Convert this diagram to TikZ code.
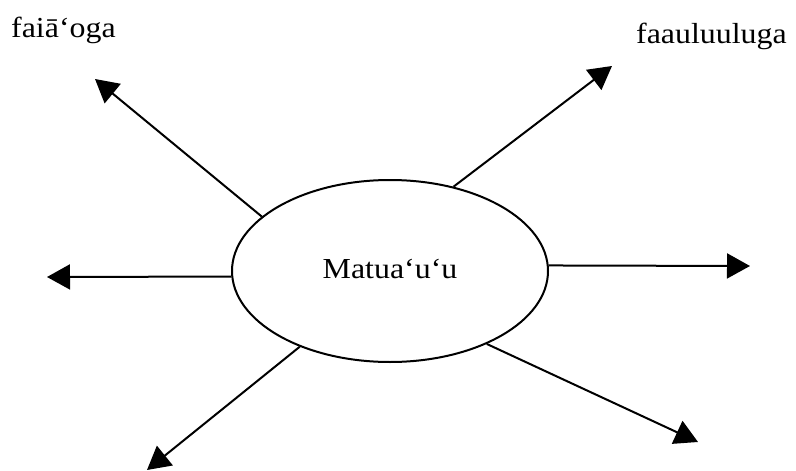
\documentclass[tikz,border=0pt]{standalone}
\usepackage{fontspec}
\setmainfont{Liberation Serif}[FakeStretch=1.1]
\usetikzlibrary{arrows.meta,shapes.geometric}
\begin{document}
\begin{tikzpicture}[x=1pt,y=-1pt,
  lbl/.style={font=\fontsize{29}{31}\selectfont, inner sep=0pt, anchor=base west},
  arr/.style={line width=2pt, -{Triangle[length=23pt,width=25pt]}}]
\useasboundingbox (0,0) rectangle (796,471);
\node[draw, ellipse, line width=2pt, minimum width=316pt, minimum height=182pt, inner sep=0pt] (m) at (390,271) {};
\node[lbl, anchor=base] (mt) at (390,278) {Matua‘u‘u};
\node[lbl] (t1) at (11,37) {faiā‘oga};
\node[lbl] (t2) at (636,43) {faauluuluga};
\coordinate (e1) at (95,79);
\coordinate (e2) at (612,66);
\coordinate (e3) at (47,277);
\coordinate (e4) at (750,266);
\coordinate (e5) at (147,470);
\coordinate (e6) at (698,442);
\draw[arr] (m.157) -- (e1);
\draw[arr] (m.53) -- (e2);
\draw[arr] (m.182) -- (e3);
\draw[arr] (m.2) -- (e4);
\draw[arr] (m.220) -- (e5);
\draw[arr] (m.-37) -- (e6);
\end{tikzpicture}
\end{document}
